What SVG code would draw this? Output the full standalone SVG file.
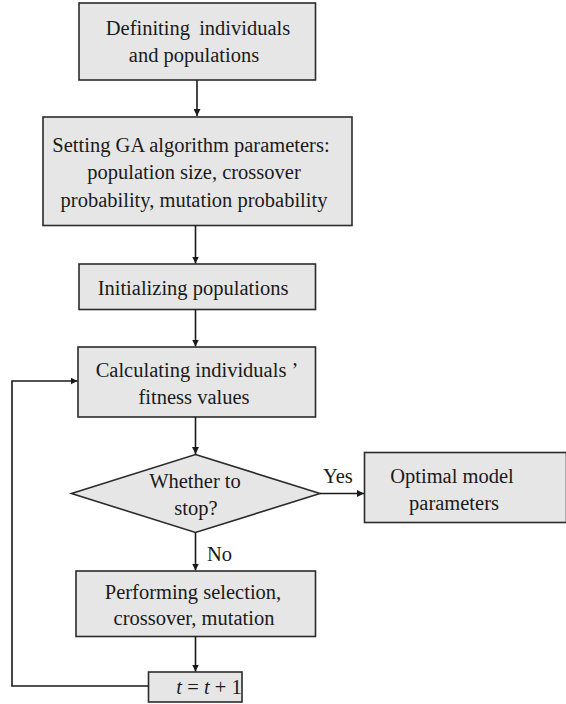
<svg xmlns="http://www.w3.org/2000/svg" width="566" height="704" viewBox="0 0 566 704">
  <style>
    .box { fill: #e6e6e6; stroke: #2b2b2b; stroke-width: 1.6; }
    .lbl { font-family: "Liberation Serif", "Times New Roman", serif; font-size: 20.5px; fill: #1a1a1a; text-anchor: middle; }
    .tag { font-family: "Liberation Serif", "Times New Roman", serif; font-size: 20.5px; fill: #1a1a1a; }
    .edge { fill: none; stroke: #1a1a1a; stroke-width: 1.6; }
  </style>
  <defs>
    <marker id="arrow" viewBox="0 0 10 10" refX="10" refY="5" markerWidth="7" markerHeight="7" markerUnits="userSpaceOnUse" orient="auto">
      <path d="M0,0 L10,5 L0,10 z" fill="#1a1a1a"/>
    </marker>
  </defs>
  <rect width="566" height="704" fill="#ffffff"/>

  <g id="define">
    <rect class="box" x="79" y="3" width="236.5" height="77"/>
    <text class="lbl" x="198" y="35" word-spacing="4">Definiting individuals</text>
    <text class="lbl" x="194" y="62">and populations</text>
  </g>

  <g id="params">
    <rect class="box" x="43" y="117" width="309" height="108.5"/>
    <text class="lbl" x="191" y="151.5">Setting GA algorithm parameters:</text>
    <text class="lbl" x="194" y="179">population size, crossover</text>
    <text class="lbl" x="194" y="206.5">probability, mutation probability</text>
  </g>

  <g id="init">
    <rect class="box" x="79" y="264" width="236.5" height="45.5"/>
    <text class="lbl" x="193" y="294.5">Initializing populations</text>
  </g>

  <g id="fitness">
    <rect class="box" x="78" y="347" width="237.5" height="70"/>
    <text class="lbl" x="197" y="376.5">Calculating individuals ’</text>
    <text class="lbl" x="194" y="403.5">fitness values</text>
  </g>

  <g id="stop">
    <polygon class="box" points="195.5,454.5 320,493.5 195.5,532.5 71.5,493.5"/>
    <text class="lbl" x="195" y="487.5">Whether to</text>
    <text class="lbl" x="196" y="515">stop?</text>
  </g>

  <g id="optimal">
    <rect class="box" x="364.5" y="452.5" width="202" height="70"/>
    <text class="lbl" x="452" y="482.5">Optimal model</text>
    <text class="lbl" x="454" y="510">parameters</text>
  </g>

  <g id="operators">
    <rect class="box" x="76" y="571" width="239.5" height="65.5"/>
    <text class="lbl" x="193" y="598.5">Performing selection,</text>
    <text class="lbl" x="194" y="625">crossover, mutation</text>
  </g>

  <g id="increment">
    <rect class="box" x="148.5" y="672" width="93.5" height="30"/>
    <text class="lbl" x="209" y="693.5"><tspan font-style="italic">t</tspan> = <tspan font-style="italic">t</tspan> + 1</text>
  </g>

  <g id="connectors">
    <line class="edge" x1="197" y1="80" x2="197" y2="116" marker-end="url(#arrow)"/>
    <line class="edge" x1="195.5" y1="225.5" x2="195.5" y2="263.5" marker-end="url(#arrow)"/>
    <line class="edge" x1="195.5" y1="309.5" x2="195.5" y2="346.5" marker-end="url(#arrow)"/>
    <line class="edge" x1="195.5" y1="417" x2="195.5" y2="454" marker-end="url(#arrow)"/>
    <line class="edge" x1="320" y1="493.5" x2="364" y2="493.5" marker-end="url(#arrow)"/>
    <line class="edge" x1="195.5" y1="532.5" x2="195.5" y2="570.5" marker-end="url(#arrow)"/>
    <line class="edge" x1="195.5" y1="636.5" x2="195.5" y2="671.5" marker-end="url(#arrow)"/>
    <polyline class="edge" points="148.5,686 12,686 12,381 77.5,381" marker-end="url(#arrow)"/>
    <text class="tag" x="323" y="483">Yes</text>
    <text class="tag" x="207" y="561">No</text>
  </g>
</svg>
